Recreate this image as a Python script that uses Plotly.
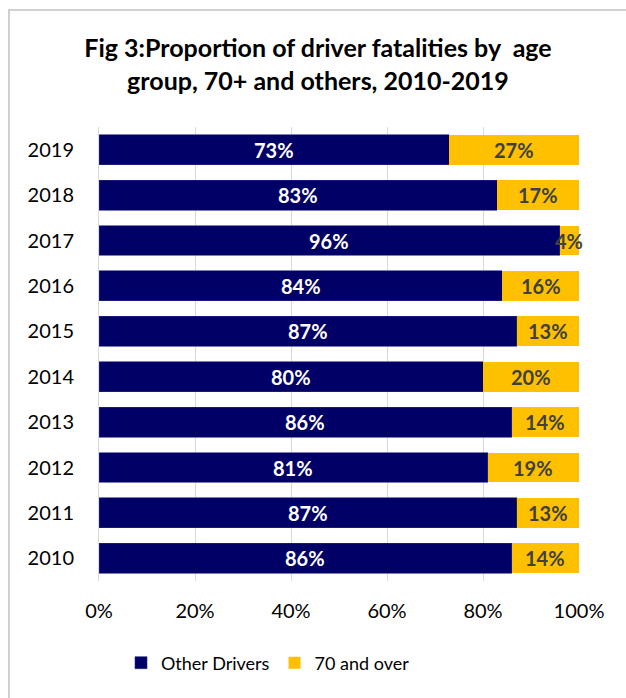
import plotly.graph_objects as go

years = ["2010", "2011", "2012", "2013", "2014", "2015", "2016", "2017", "2018", "2019"]
other_drivers = [86, 87, 81, 86, 80, 87, 84, 96, 83, 73]
seventy_plus = [14, 13, 19, 14, 20, 13, 16, 4, 17, 27]
x_ticks = [0, 20, 40, 60, 80, 100]
x_tick_labels = ["0%", "20%", "40%", "60%", "80%", "100%"]

NAVY = "#000066"
GOLD = "#FFC000"
FONT = "Lato, 'Open Sans', sans-serif"

fig = go.Figure()
fig.add_trace(go.Bar(
    y=years, x=other_drivers, name="Other Drivers", orientation="h",
    marker=dict(color=NAVY, line=dict(color="#2a2a80", width=0.6)),
    hoverinfo="skip",
))
fig.add_trace(go.Bar(
    y=years, x=seventy_plus, name="70 and over", orientation="h",
    marker=dict(color=GOLD, line=dict(width=0)),
    hoverinfo="skip",
))

# value labels centred in each segment (y given as category index)
for i, (a, b) in enumerate(zip(other_drivers, seventy_plus)):
    fig.add_annotation(x=a / 2, y=i, text=f"<b>{a}%</b>", showarrow=False,
                       font=dict(family=FONT, size=20, color="white"))
    fig.add_annotation(x=a + b / 2, y=i, text=f"<b>{b}%</b>", showarrow=False,
                       font=dict(family=FONT, size=20, color="#404040"))

# light outer frame around the chart
fig.add_shape(type="rect", xref="paper", yref="paper",
              x0=(9 - 99) / 480, x1=(660 - 99) / 480,
              y0=(581 - 720) / 454, y1=(581 - 10) / 454,
              line=dict(color="#D0D0D0", width=2), fillcolor="rgba(0,0,0,0)",
              layer="below")

fig.update_layout(
    width=626, height=698,
    margin=dict(l=99, r=47, t=127, b=117),
    paper_bgcolor="white", plot_bgcolor="white",
    barmode="stack", bargap=0.34,
    title=dict(
        text="<b>Fig 3:Proportion of driver fatalities by  age<br>group, 70+ and others, 2010-2019</b>",
        x=318 / 626, xref="container", xanchor="center",
        y=1 - 57 / 698, yref="container", yanchor="middle",
        font=dict(family=FONT, size=25, color="black"),
    ),
    xaxis=dict(
        range=[0, 100], tickvals=x_ticks, ticktext=x_tick_labels,
        showgrid=True, gridcolor="#D9D9D9", gridwidth=1,
        zeroline=False, showline=False, ticks="", ticklabelstandoff=16,
        tickfont=dict(family=FONT, size=20, color="black"),
        fixedrange=True,
    ),
    yaxis=dict(
        type="category",
        categoryorder="array", categoryarray=years,
        range=[-0.5, len(years) - 0.5],
        showline=True, linecolor="#D9D9D9", linewidth=1,
        ticks="", ticklabelstandoff=20,
        tickfont=dict(family=FONT, size=20, color="black"),
        fixedrange=True,
    ),
    legend=dict(
        orientation="h", x=(268 - 99) / 480, xanchor="center",
        y=(581 - 663) / 454, yanchor="middle",
        font=dict(family=FONT, size=18, color="black"),
        itemwidth=30, traceorder="normal",
    ),
    showlegend=True,
)

fig.write_html("out.html")
